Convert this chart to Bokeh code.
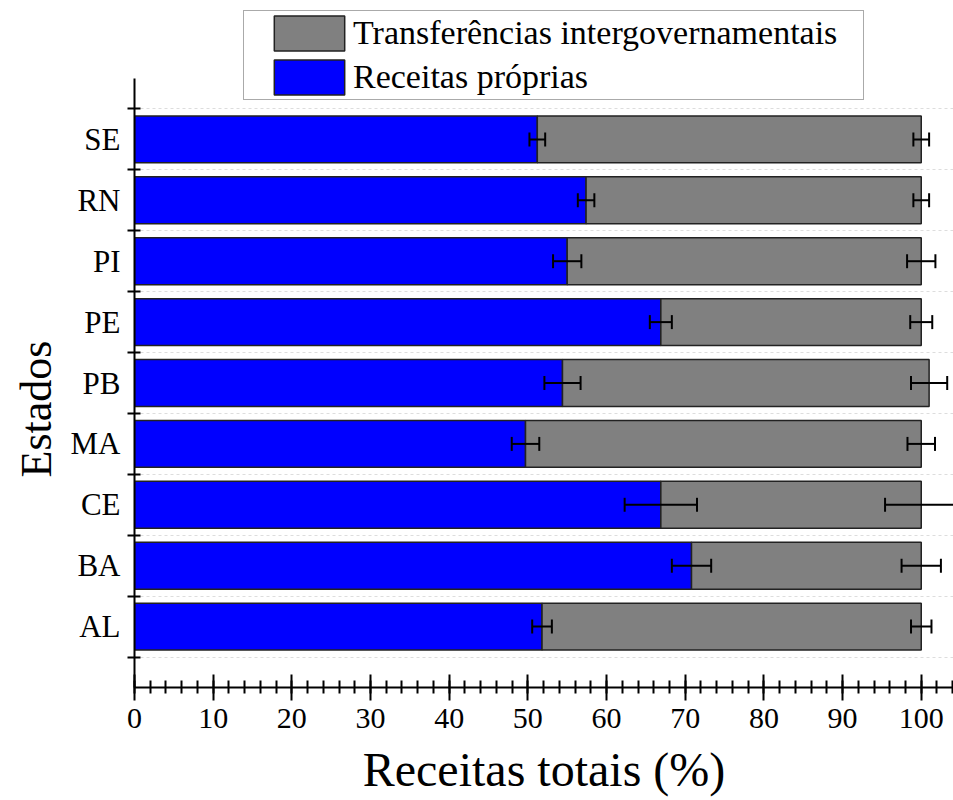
from bokeh.plotting import figure
from bokeh.models import (ColumnDataSource, Range1d, FixedTicker, SingleIntervalTicker,
                          Whisker, TeeHead, Legend, LegendItem, Title)
from bokeh.embed import file_html
from bokeh.resources import INLINE

# ---- data ----
estados = ["AL", "BA", "CE", "MA", "PB", "PE", "PI", "RN", "SE"]
receitas_proprias = [51.8, 70.8, 66.9, 49.7, 54.4, 66.9, 55.0, 57.4, 51.2]
erro_proprias = [1.25, 2.5, 4.6, 1.75, 2.3, 1.4, 1.8, 1.05, 1.0]
receitas_totais = [100, 100, 100, 100, 101, 100, 100, 100, 100]
erro_totais = [1.3, 2.5, 4.6, 1.75, 2.3, 1.4, 1.8, 1.0, 1.0]

x_ticks_interval = 10
label_prop = "Receitas próprias"
label_transf = "Transferências intergovernamentais"

pos = [i + 1 for i in range(len(estados))]
src = ColumnDataSource(dict(
    y=pos,
    prop=receitas_proprias,
    total=receitas_totais,
    lo_p=[v - e for v, e in zip(receitas_proprias, erro_proprias)],
    hi_p=[v + e for v, e in zip(receitas_proprias, erro_proprias)],
    lo_t=[v - e for v, e in zip(receitas_totais, erro_totais)],
    hi_t=[v + e for v, e in zip(receitas_totais, erro_totais)],
))

FONT = "Liberation Serif"
y_axis_end = len(estados) + 1          # axis drawn from 0 to 10
y_view_end = 11.281                    # extra room above the axis for the legend

p = figure(width=953, height=800,
           x_range=Range1d(0, 104.1), y_range=Range1d(0, y_view_end),
           output_backend="svg", toolbar_location=None,
           min_border_left=134, min_border_top=0, min_border_right=0,
           min_border_bottom=113)
p.outline_line_color = None
p.background_fill_color = "white"
p.border_fill_color = "white"

blue = p.hbar(y="y", left=0, right="prop", height=0.77, source=src,
              fill_color="#0000FF", line_color="#222222", line_width=1.5)
grey = p.hbar(y="y", left="prop", right="total", height=0.77, source=src,
              fill_color="#808080", line_color="#222222", line_width=1.5)

for lo, hi in (("lo_p", "hi_p"), ("lo_t", "hi_t")):
    w = Whisker(source=src, base="y", lower=lo, upper=hi, dimension="width",
                level="overlay", line_color="black", line_width=2,
                upper_head=TeeHead(size=14, line_color="black", line_width=2),
                lower_head=TeeHead(size=14, line_color="black", line_width=2))
    p.add_layout(w)

# x axis
xa = p.xaxis[0]
xa.ticker = SingleIntervalTicker(interval=x_ticks_interval, num_minor_ticks=5)
xa.axis_label = "Receitas totais (%)"
xa.axis_label_text_font = FONT
xa.axis_label_text_font_size = "48px"
xa.axis_label_text_font_style = "normal"
xa.axis_label_standoff = 12
xa.major_label_text_font = FONT
xa.major_label_text_font_size = "30px"
xa.major_label_standoff = 8
xa.major_tick_in = 13
xa.major_tick_out = 13
xa.minor_tick_in = 7
xa.minor_tick_out = 6
xa.axis_line_width = 2
xa.major_tick_line_width = 2
xa.minor_tick_line_width = 2
xa.axis_line_color = "black"
xa.major_tick_line_color = "black"
xa.minor_tick_line_color = "black"
xa.major_label_text_color = "black"
xa.axis_label_text_color = "black"

# y axis
ya = p.yaxis[0]
yt = FixedTicker(ticks=pos, minor_ticks=[v - 0.5 for v in pos] + [pos[-1] + 0.5])
ya.ticker = yt
ya.bounds = (0, y_axis_end)
ya.major_label_overrides = {v: s for v, s in zip(pos, estados)}
ya.major_label_text_font = FONT
ya.major_label_text_font_size = "31px"
ya.major_label_standoff = 7
ya.major_tick_in = 0
ya.major_tick_out = 0
ya.minor_tick_in = 6
ya.minor_tick_out = 7
ya.axis_line_width = 2
ya.minor_tick_line_width = 2
ya.axis_line_color = "black"
ya.minor_tick_line_color = "black"
ya.major_label_text_color = "black"

# "Estados" title on the left, placed along the axis like the reference
ytitle = Title(text="Estados", align="left", offset=210, standoff=14,
               vertical_align="bottom",
               text_font=FONT, text_font_size="44px", text_font_style="normal",
               text_color="black")
p.add_layout(ytitle, "left")

p.xgrid.visible = False
p.ygrid.ticker = yt
p.ygrid.grid_line_color = None
p.ygrid.minor_grid_line_color = "#dddddd"
p.ygrid.minor_grid_line_dash = "3 3"
p.ygrid.minor_grid_line_width = 1

legend = Legend(items=[LegendItem(label=label_transf, renderers=[grey]),
                       LegendItem(label=label_prop, renderers=[blue])],
                location=(109, 587))
legend.label_text_font = FONT
legend.label_text_font_size = "34px"
legend.label_text_color = "black"
legend.glyph_width = 88
legend.glyph_height = 44
legend.label_height = 44
legend.label_width = 500
legend.label_standoff = 0
legend.spacing = 0
legend.padding = dict(left=21, right=10, top=0, bottom=0)
legend.margin = 0
legend.border_line_color = "#555555"
legend.border_line_width = 1
legend.background_fill_color = "white"
legend.background_fill_alpha = 1.0
p.add_layout(legend)

open("out.html", "w").write(file_html(p, INLINE))
